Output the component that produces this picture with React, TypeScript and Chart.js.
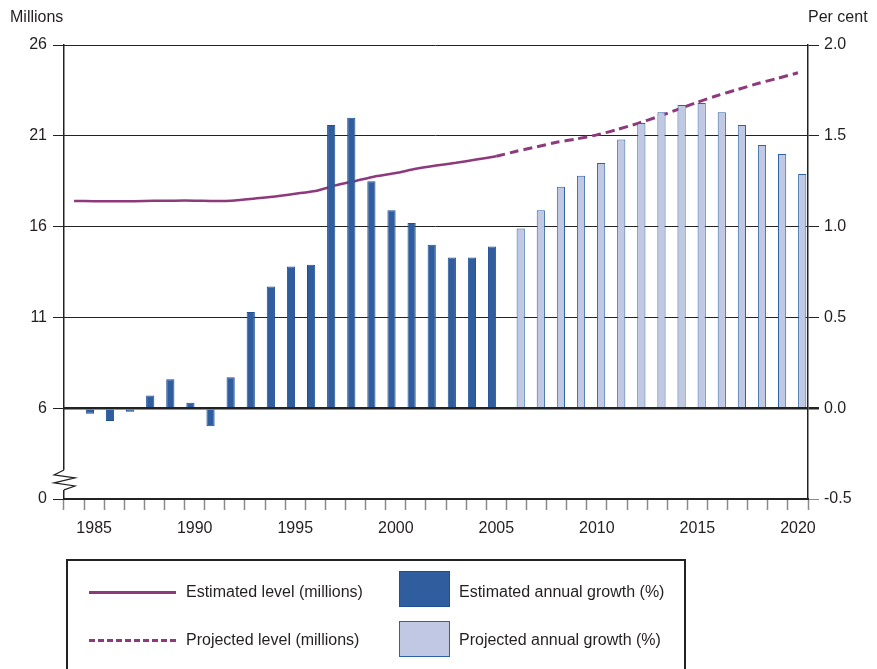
import React, { useEffect, useRef } from 'react';
import { Chart, registerables } from 'chart.js';

Chart.register(...registerables);

// categories
const YEARS = [
  '1984', '1985', '1986', '1987', '1988', '1989', '1990', '1991', '1992', '1993',
  '1994', '1995', '1996', '1997', '1998', '1999', '2000', '2001', '2002', '2003',
  '2004', '2005', '2006', '2007', '2008', '2009', '2010', '2011', '2012', '2013',
  '2014', '2015', '2016', '2017', '2018', '2019', '2020',
];

// level in millions (left axis)
const ESTIMATED_LEVEL = [
  17.41, 17.4, 17.4, 17.4, 17.42, 17.43, 17.43, 17.41, 17.44, 17.55,
  17.66, 17.81, 17.96, 18.27, 18.51, 18.77, 18.95, 19.18, 19.36, 19.51,
  19.69, 19.87, null, null, null, null, null, null, null, null,
  null, null, null, null, null, null, null,
];
const PROJECTED_LEVEL = [
  null, null, null, null, null, null, null, null, null, null,
  null, null, null, null, null, null, null, null, null, null,
  null, 19.87, 20.15, 20.39, 20.64, 20.83, 21.05, 21.34, 21.67, 22.04,
  22.44, 22.85, 23.22, 23.55, 23.88, 24.17, 24.47,
];

// annual growth in per cent (right axis)
const ESTIMATED_GROWTH = [
  null, -0.03, -0.07, -0.02, 0.07, 0.16, 0.03, -0.1, 0.17, 0.53,
  0.67, 0.78, 0.79, 1.56, 1.6, 1.25, 1.09, 1.02, 0.9, 0.83,
  0.83, 0.89, null, null, null, null, null, null, null, null,
  null, null, null, null, null, null, null,
];
const PROJECTED_GROWTH = [
  null, null, null, null, null, null, null, null, null, null,
  null, null, null, null, null, null, null, null, null, null,
  null, null, 0.99, 1.09, 1.22, 1.28, 1.35, 1.48, 1.57, 1.63,
  1.67, 1.68, 1.63, 1.56, 1.45, 1.4, 1.29,
];

// axis ticks
const LEFT_TICKS = { min: 1, max: 26, step: 5 }; // bottom tick shown as 0 (broken axis)
const RIGHT_TICKS = { min: -0.5, max: 2.0, step: 0.5 };

const FONT = '"Liberation Sans", Arial, sans-serif';
const TEXT = '#231f20';
const AXIS = '#222';
const PURPLE = '#8c3a7c';
const DARK_BLUE = '#2f5d9e';
const DARK_BLUE_EDGE = '#1d4f94';
const LIGHT_BLUE = '#c0c8e3';
const LIGHT_BLUE_EDGE = '#2d63a5';

// zigzag break on the left axis
const axisBreak = {
  id: 'axisBreak',
  afterDraw(chart: any) {
    const y = chart.scales.yL;
    const x = chart.chartArea.left;
    const top = y.getPixelForValue(2.6);
    const bot = y.getPixelForValue(1.5);
    const ctx = chart.ctx;
    ctx.save();
    ctx.fillStyle = '#fff';
    ctx.fillRect(x - 2, top, 4, bot - top);
    ctx.strokeStyle = AXIS;
    ctx.lineWidth = 1.2;
    ctx.beginPath();
    ctx.moveTo(x, top);
    ctx.lineTo(x - 10, top + 5);
    ctx.lineTo(x + 11, top + 8);
    ctx.lineTo(x - 10, top + 13);
    ctx.lineTo(x + 11, top + 16);
    ctx.lineTo(x, bot);
    ctx.stroke();
    ctx.restore();
  },
};

const LevelGrowthChart: React.FC = () => {
  const canvasRef = useRef<HTMLCanvasElement | null>(null);
  const chartRef = useRef<Chart | null>(null);

  useEffect(() => {
    document.body.style.margin = '0';
    if (!canvasRef.current) return;
    const ctx = canvasRef.current.getContext('2d');
    if (!ctx) return;
    if (chartRef.current) chartRef.current.destroy();

    chartRef.current = new Chart(ctx, {
      type: 'bar',
      data: {
        labels: YEARS,
        datasets: [
          {
            type: 'bar',
            label: 'Estimated annual growth (%)',
            data: ESTIMATED_GROWTH,
            yAxisID: 'yR',
            backgroundColor: DARK_BLUE,
            borderColor: DARK_BLUE_EDGE,
            borderWidth: 1,
            categoryPercentage: 0.85,
            barPercentage: 0.96,
            order: 0,
          },
          {
            type: 'bar',
            label: 'Projected annual growth (%)',
            data: PROJECTED_GROWTH,
            yAxisID: 'yR',
            backgroundColor: LIGHT_BLUE,
            borderColor: LIGHT_BLUE_EDGE,
            borderWidth: 1,
            categoryPercentage: 0.85,
            barPercentage: 0.96,
            order: 0,
          },
          {
            type: 'line',
            label: 'Estimated level (millions)',
            data: ESTIMATED_LEVEL,
            yAxisID: 'yL',
            borderColor: PURPLE,
            borderWidth: 2.5,
            pointRadius: 0,
            tension: 0.2,
            order: 1,
          },
          {
            type: 'line',
            label: 'Projected level (millions)',
            data: PROJECTED_LEVEL,
            yAxisID: 'yL',
            borderColor: PURPLE,
            borderWidth: 3,
            borderDash: [9, 5],
            pointRadius: 0,
            tension: 0.2,
            order: 1,
          },
        ],
      },
      options: {
        responsive: true,
        maintainAspectRatio: false,
        animation: false,
        layout: { padding: { top: 45, left: 0, right: 0, bottom: 130 } },
        plugins: {
          legend: { display: false },
          tooltip: { enabled: false },
        },
        scales: {
          x: {
            type: 'category',
            offset: true,
            afterFit: (s: any) => { s.height = 40; },
            grid: {
              offset: true,
              drawOnChartArea: false,
              drawTicks: true,
              tickLength: 11,
              tickColor: '#8a8a8a',
              tickWidth: 1.5,
            },
            border: { display: true, color: AXIS, width: 2 },
            ticks: {
              autoSkip: false,
              maxRotation: 0,
              padding: 9,
              color: TEXT,
              font: { family: FONT, size: 16 },
              callback: (_v: any, i: number) => (Number(YEARS[i]) % 5 === 0 ? YEARS[i] : ''),
            },
          },
          yL: {
            type: 'linear',
            position: 'left',
            min: LEFT_TICKS.min,
            max: LEFT_TICKS.max,
            afterFit: (s: any) => { s.width = 64; },
            grid: {
              drawOnChartArea: false,
              drawTicks: true,
              tickLength: 11,
              tickColor: AXIS,
            },
            border: { display: true, color: AXIS, width: 1.5 },
            ticks: {
              stepSize: LEFT_TICKS.step,
              padding: 6,
              color: TEXT,
              font: { family: FONT, size: 16 },
              callback: (v: any) => (v === LEFT_TICKS.min ? '0' : String(v)),
            },
          },
          yR: {
            type: 'linear',
            position: 'right',
            min: RIGHT_TICKS.min,
            max: RIGHT_TICKS.max,
            afterFit: (s: any) => { s.width = 69; },
            grid: {
              drawOnChartArea: true,
              drawTicks: true,
              tickLength: 11,
              color: (c: any) => (c.tick && c.tick.value === RIGHT_TICKS.min ? 'rgba(0,0,0,0)' : AXIS),
              lineWidth: (c: any) => (c.tick && c.tick.value === 0 ? 2.5 : 1),
              tickColor: (c: any) => (c.tick && c.tick.value === RIGHT_TICKS.min ? '#8a8a8a' : AXIS),
            },
            border: { display: true, color: AXIS, width: 1.5 },
            ticks: {
              stepSize: RIGHT_TICKS.step,
              padding: 5,
              color: TEXT,
              font: { family: FONT, size: 16 },
              callback: (v: any) => Number(v).toFixed(1),
            },
          },
        },
      },
      plugins: [axisBreak],
    });

    return () => {
      if (chartRef.current) {
        chartRef.current.destroy();
        chartRef.current = null;
      }
    };
  }, []);

  const text: React.CSSProperties = {
    position: 'absolute',
    fontFamily: FONT,
    fontSize: 16,
    color: TEXT,
    lineHeight: '20px',
    whiteSpace: 'nowrap',
  };

  return (
    <div style={{ position: 'relative', width: 877, height: 669, overflow: 'hidden', background: '#fff' }}>
      <canvas ref={canvasRef}></canvas>
      <div style={{ ...text, left: 10, top: 7 }}>Millions</div>
      <div style={{ ...text, left: 808, top: 7 }}>Per cent</div>
      <div
        style={{
          position: 'absolute',
          left: 66,
          top: 559,
          width: 616,
          height: 140,
          border: '2px solid ' + AXIS,
        }}
      >
        <div style={{ position: 'absolute', left: 21, top: 30, width: 87, borderTop: '3px solid ' + PURPLE }} />
        <div style={{ ...text, left: 118, top: 21 }}>Estimated level (millions)</div>
        <div style={{ position: 'absolute', left: 21, top: 78, width: 87, borderTop: '3px dashed ' + PURPLE }} />
        <div style={{ ...text, left: 118, top: 69 }}>Projected level (millions)</div>
        <div
          style={{
            position: 'absolute', left: 331, top: 10, width: 49, height: 34,
            background: DARK_BLUE, border: '1px solid ' + DARK_BLUE_EDGE,
          }}
        />
        <div style={{ ...text, left: 391, top: 21 }}>Estimated annual growth (%)</div>
        <div
          style={{
            position: 'absolute', left: 331, top: 60, width: 49, height: 34,
            background: LIGHT_BLUE, border: '1px solid ' + LIGHT_BLUE_EDGE,
          }}
        />
        <div style={{ ...text, left: 391, top: 69 }}>Projected annual growth (%)</div>
      </div>
    </div>
  );
};

export default function App() {
  return <LevelGrowthChart />;
}
